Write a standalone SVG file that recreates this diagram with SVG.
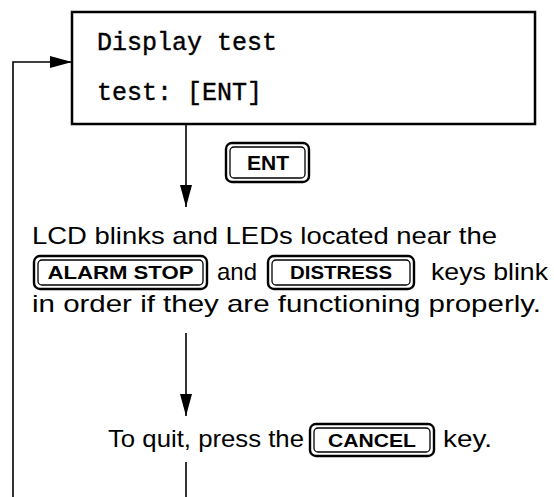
<svg xmlns="http://www.w3.org/2000/svg" width="554" height="497" viewBox="0 0 554 497">
<style>
.box{fill:#fff;stroke:#000;stroke-width:2.5}
.mono{font-family:"Liberation Mono","Courier New",monospace;font-size:25px;fill:#000;stroke:#000;stroke-width:0.4}
.t{font-family:"Liberation Sans",Arial,sans-serif;font-size:24px;fill:#000}
.kt{font-family:"Liberation Sans",Arial,sans-serif;font-size:18px;font-weight:bold;fill:#000;text-anchor:middle}
.ko{fill:#fff;stroke:#000;stroke-width:2.4}
.ki{fill:none;stroke:#000;stroke-width:1.3}
.c{fill:none;stroke:#000;stroke-width:1.6}
</style>
<defs>
<marker id="ah" markerUnits="userSpaceOnUse" markerWidth="22" markerHeight="12" refX="22" refY="6" orient="auto">
<path d="M0,0 L22,6 L0,12 z" fill="#000"/>
</marker>
</defs>
<g id="connectors">
<path class="c" d="M13,497 L13,62 L72,62" marker-end="url(#ah)"/>
<path class="c" d="M186,124 L186,207" marker-end="url(#ah)"/>
<path class="c" d="M186,333 L186,416" marker-end="url(#ah)"/>
<path class="c" d="M186,462 L186,497"/>
</g>
<g id="display">
<rect class="box" x="72" y="12" width="463" height="112"/>
<text class="mono" x="97" y="50">Display test</text>
<text class="mono" x="97" y="100">test: [ENT]</text>
</g>
<g id="ent-key">
<rect class="ko" x="226" y="143" width="83" height="39" rx="6"/>
<rect class="ki" x="230" y="147" width="75" height="31" rx="4"/>
<text class="kt" x="268" y="170" style="font-size:21px">ENT</text>
</g>
<g id="description">
<text class="t" x="32" y="244" textLength="465" lengthAdjust="spacingAndGlyphs">LCD blinks and LEDs located near the</text>
<g id="alarm-stop-key">
<rect class="ko" x="34" y="256" width="173" height="33" rx="6"/>
<rect class="ki" x="38" y="260" width="165" height="25" rx="4"/>
<text class="kt" x="120.5" y="279" textLength="146" lengthAdjust="spacingAndGlyphs">ALARM STOP</text>
</g>
<text class="t" x="217" y="280" textLength="40" lengthAdjust="spacingAndGlyphs">and</text>
<g id="distress-key">
<rect class="ko" x="268" y="256" width="146" height="33" rx="6"/>
<rect class="ki" x="272" y="260" width="138" height="25" rx="4"/>
<text class="kt" x="341" y="279" textLength="102" lengthAdjust="spacingAndGlyphs">DISTRESS</text>
</g>
<text class="t" x="431" y="280" textLength="117" lengthAdjust="spacingAndGlyphs">keys blink</text>
<text class="t" x="32" y="312" textLength="509" lengthAdjust="spacingAndGlyphs">in order if they are functioning properly.</text>
</g>
<g id="quit">
<text class="t" x="108" y="447" textLength="196" lengthAdjust="spacingAndGlyphs">To quit, press the</text>
<g id="cancel-key">
<rect class="ko" x="310" y="424" width="124" height="32" rx="6"/>
<rect class="ki" x="314" y="428" width="116" height="24" rx="4"/>
<text class="kt" x="372" y="447" textLength="88" lengthAdjust="spacingAndGlyphs">CANCEL</text>
</g>
<text class="t" x="443" y="447" textLength="49" lengthAdjust="spacingAndGlyphs">key.</text>
</g>
</svg>
